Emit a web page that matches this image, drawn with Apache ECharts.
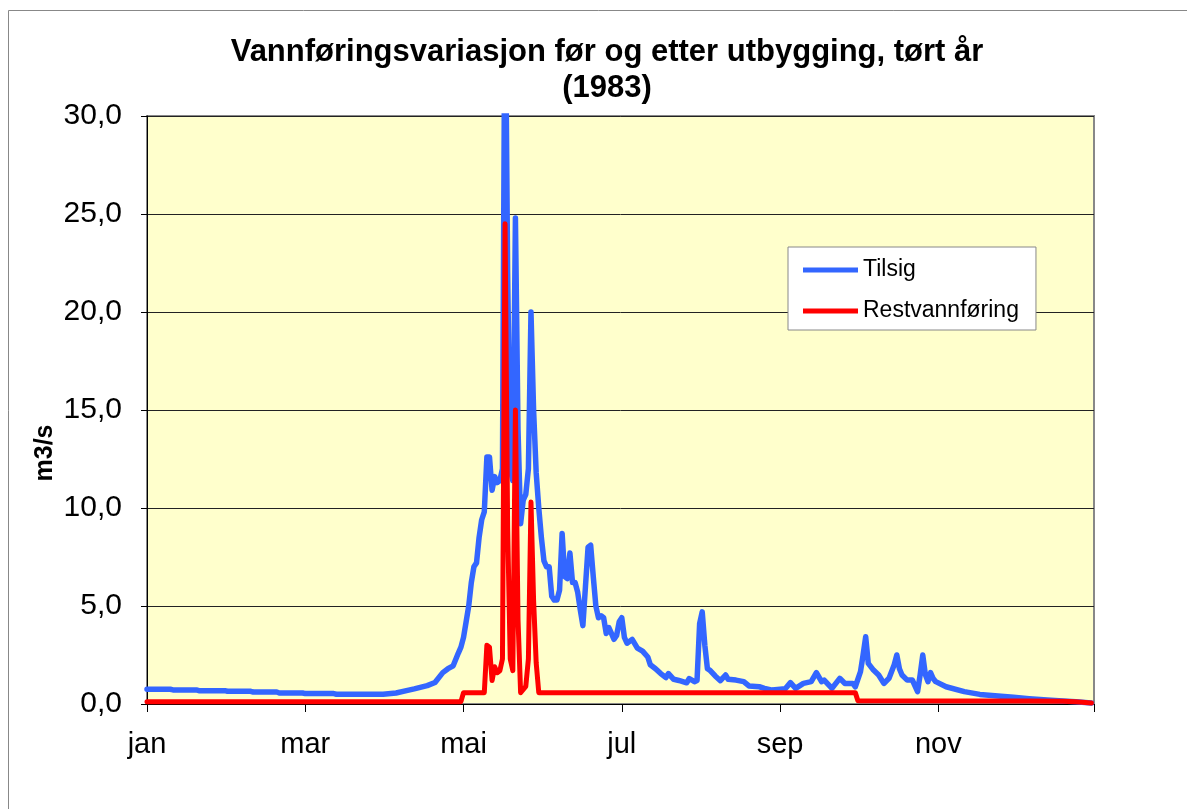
<!DOCTYPE html>
<html>
<head>
<meta charset="utf-8">
<script src="https://cdn.jsdelivr.net/npm/echarts@6/dist/echarts.min.js"></script>
<style>
html,body{margin:0;padding:0;background:#fff;}
#chart{width:1187px;height:809px;}
</style>
</head>
<body>
<div id="chart"></div>
<script>
// ---- data (day of year 0..364, m3/s) ----
const titleLines = ['Vannføringsvariasjon før og etter utbygging, tørt år', '(1983)'];
const yAxisTitle = 'm3/s';
const monthLabels = ['jan', 'mar', 'mai', 'jul', 'sep', 'nov'];
const yTicks = [0, 5, 10, 15, 20, 25, 30];

const tilsigDays = [0,9,10,19,20,30,31,40,41,50,51,60,61,72,73,91,96,100,103,108,111,114,116,118,120,121,122,123,124,125,126,127,128,129,130,131,132,133,134,135,136,137,138,139,140,141,142,143,144,145,146,147,148,149,150,151,152,153,154,155,156,157,158,159,160,161,162,163,164,165,166,167,168,169,170,171,172,173,174,175,176,177,178,179,180,181,182,183,184,185,187,189,191,193,194,196,198,200,201,203,205,208,209,211,212,213,214,215,216,217,219,221,223,224,227,230,232,236,238,241,244,246,248,250,253,256,258,260,261,264,267,269,272,273,275,276,277,278,280,282,284,286,288,289,290,291,293,295,297,298,299,300,301,302,303,304,308,315,321,328,334,340,347,353,358,364];
const tilsig = [0.75,0.75,0.72,0.72,0.68,0.68,0.65,0.65,0.61,0.61,0.56,0.56,0.53,0.53,0.50,0.50,0.56,0.68,0.77,0.94,1.1,1.6,1.8,1.95,2.6,2.9,3.4,4.2,5.0,6.2,7.0,7.2,8.5,9.4,9.8,12.6,12.6,10.9,11.6,11.3,11.4,12.0,38.0,22.0,12.0,11.4,24.8,14.0,9.2,10.4,10.7,12.0,20.0,15.0,11.8,10.0,8.5,7.3,7.0,7.0,5.5,5.3,5.3,5.8,8.7,6.5,6.4,7.7,6.2,6.2,5.7,4.8,4.0,6.0,8.0,8.1,6.5,5.0,4.4,4.5,4.4,3.6,3.9,3.6,3.3,3.5,4.2,4.4,3.4,3.1,3.3,2.85,2.7,2.4,2.0,1.8,1.55,1.35,1.55,1.26,1.2,1.08,1.3,1.14,1.2,4.1,4.7,3.0,1.8,1.72,1.43,1.19,1.48,1.26,1.22,1.14,0.92,0.88,0.8,0.71,0.75,0.78,1.09,0.8,1.05,1.14,1.6,1.14,1.22,0.8,1.31,1.05,1.05,0.88,1.65,2.5,3.43,2.07,1.73,1.48,1.05,1.31,2.0,2.5,1.8,1.48,1.22,1.22,0.63,1.5,2.5,1.5,1.14,1.6,1.3,1.14,0.88,0.63,0.49,0.41,0.34,0.27,0.2,0.15,0.11,0.05];

const restDays = [0,121,122,130,131,132,133,134,135,136,137,138,139,140,141,142,143,144,146,147,148,149,150,151,273,274,340,353,358,364];
const rest = [0.12,0.12,0.58,0.58,3.0,2.9,1.2,1.9,1.6,1.7,2.3,24.5,9.0,2.3,1.7,15.0,4.3,0.58,0.9,2.3,10.3,5.3,2.1,0.58,0.58,0.17,0.15,0.14,0.11,0.05];

const zip = (xs, ys) => xs.map((x, i) => [x, ys[i]]);

const FONT = '"Liberation Sans", Arial, sans-serif';
const chart = echarts.init(document.getElementById('chart'), null, {renderer: 'canvas'});
chart.setOption({
  animation: false,
  backgroundColor: '#ffffff',
  graphic: [
    {
      type: 'rect', silent: true,
      shape: {x: 8.5, y: 10.5, width: 1300, height: 900},
      style: {fill: 'none', stroke: '#888888', lineWidth: 1}
    },
    {
      type: 'text', silent: true, x: 607, y: 52,
      style: {text: titleLines[0], fontFamily: FONT, fontSize: 31, fontWeight: 'bold', fill: '#000',
              textAlign: 'center', textVerticalAlign: 'middle'}
    },
    {
      type: 'text', silent: true, x: 607, y: 88,
      style: {text: titleLines[1], fontFamily: FONT, fontSize: 31, fontWeight: 'bold', fill: '#000',
              textAlign: 'center', textVerticalAlign: 'middle'}
    },
    {
      type: 'text', silent: true, x: 45, y: 453, rotation: Math.PI / 2,
      style: {text: yAxisTitle, fontFamily: FONT, fontSize: 25, fontWeight: 'bold', fill: '#000',
              textAlign: 'center', textVerticalAlign: 'middle'}
    }
  ],
  legend: {
    orient: 'vertical', left: 788, top: 247,
    backgroundColor: '#ffffff', borderColor: '#888888', borderWidth: 1,
    padding: [11, 17, 7, 15],
    icon: 'rect', itemWidth: 55, itemHeight: 5, itemGap: 17,
    textStyle: {fontFamily: FONT, fontSize: 23, color: '#000', lineHeight: 24},
    data: ['Tilsig', 'Restvannføring']
  },
  grid: {
    left: 147, right: 93, top: 116, bottom: 105,
    show: true, backgroundColor: '#FFFFCC', borderColor: '#888888', borderWidth: 2
  },
  xAxis: {
    type: 'value', min: 0, max: 365, interval: 61,
    axisLine: {show: true, onZero: false, lineStyle: {color: '#000', width: 1}},
    axisTick: {show: true, length: 8, lineStyle: {color: '#000'}},
    splitLine: {show: false},
    axisLabel: {
      fontFamily: FONT, fontSize: 29, color: '#000', margin: 26,
      formatter: v => monthLabels[Math.round(v / 61)] || ''
    }
  },
  yAxis: {
    type: 'value', min: 0, max: 30, interval: 5,
    axisLine: {show: true, lineStyle: {color: '#000', width: 1}},
    axisTick: {show: true, length: 6, lineStyle: {color: '#000'}},
    splitLine: {show: true, lineStyle: {color: '#222', width: 1}},
    axisLabel: {
      fontFamily: FONT, fontSize: 30, color: '#000', margin: 25,
      formatter: v => yTicks.includes(v) ? v.toFixed(1).replace('.', ',') : ''
    }
  },
  series: [
    {
      name: 'Tilsig', type: 'line', data: zip(tilsigDays, tilsig),
      symbol: 'none', clip: true,
      lineStyle: {color: '#3366FF', width: 5.5, join: 'round', cap: 'round'},
      itemStyle: {color: '#3366FF'}
    },
    {
      name: 'Restvannføring', type: 'line', data: zip(restDays, rest),
      symbol: 'none', clip: true,
      lineStyle: {color: '#FF0000', width: 5, join: 'round', cap: 'round'},
      itemStyle: {color: '#FF0000'}
    }
  ]
});
</script>
</body>
</html>
